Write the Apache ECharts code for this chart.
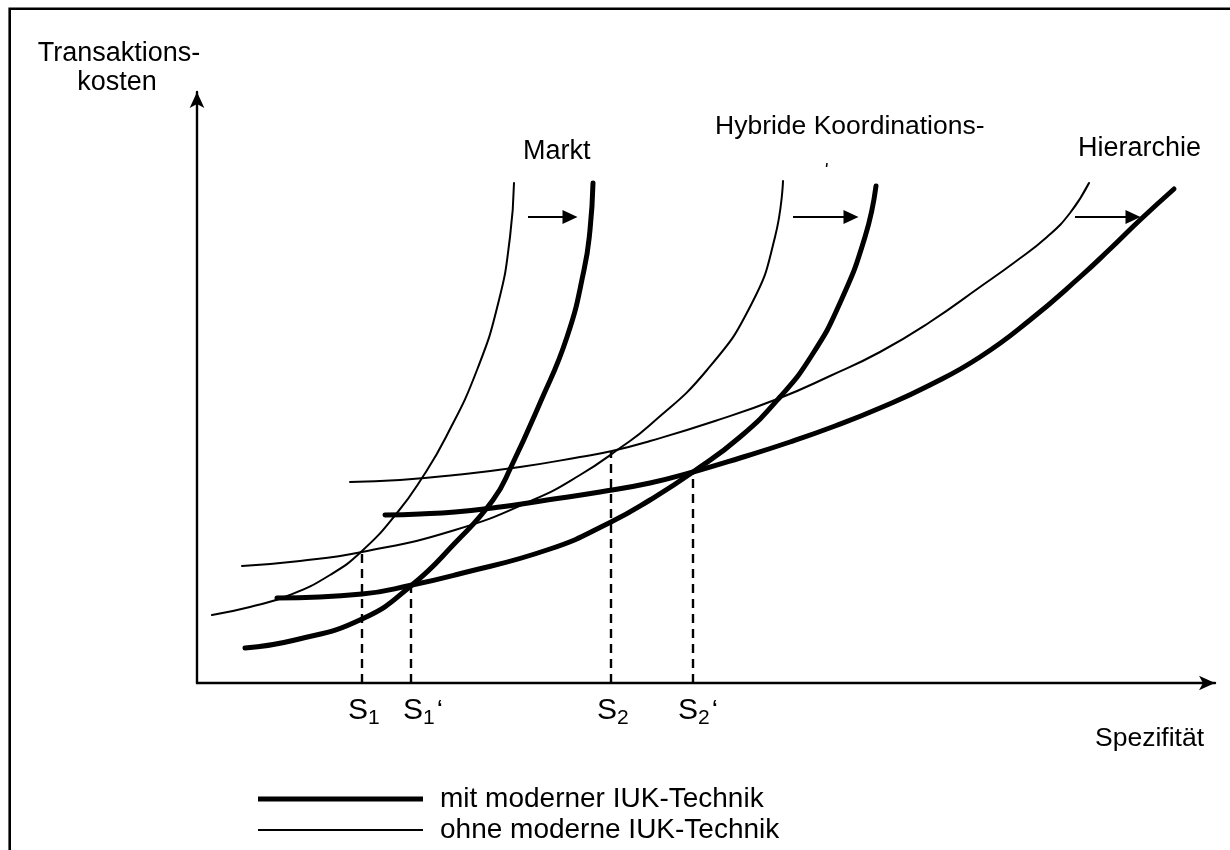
<!DOCTYPE html>
<html>
<head>
<meta charset="utf-8">
<script src="https://cdn.jsdelivr.net/npm/echarts@6/dist/echarts.min.js"></script>
<style>
html,body{margin:0;padding:0;background:#fff;}
#c{width:1230px;height:850px;}
</style>
</head>
<body>
<div id="c"></div>
<script>
// ---- data: x = Spezifität, y = Transaktionskosten (abstract units) ----
const marktOhne = [[15,68],[53,76],[93,88],[133,108],[165,132],[200,170],[225,205],[249,246],[280,313],[302,383],[313,446],[317,500]];
const marktMit = [[48,35],[98,43],[165,64],[215,98],[258,140],[296,183],[314,216],[343,280],[370,346],[387,413],[393,453],[396,500]];
const hybridOhne = [[45,117],[103,122],[165,131],[258,153],[336,183],[383,208],[423,235],[453,258],[510,313],[555,380],[578,446],[586,502]];
const hybridMit = [[80,85],[165,89],[215,98],[258,108],[353,134],[414,161],[453,183],[496,211],[543,246],[583,286],[615,328],[643,380],[668,446],[679,497]];
const hierOhne = [[153,201],[203,203],[258,208],[323,216],[383,226],[415,232],[453,242],[518,262],[583,285],[633,307],[683,331],[733,361],[783,396],[818,421],[850,446],[873,470],[892,500]];
const hierMit = [[188,168],[223,169],[258,171],[303,176],[350,183],[403,191],[453,200],[496,211],[543,225],[593,241],[638,257],[683,275],[733,298],[783,326],[833,363],[883,406],[913,434],[943,463],[977,494]];
// equilibrium points S1, S1', S2, S2' : [x, height of dashed guide]
const sPoints = [[165,132],[214,98],[414,232],[496,211]];
const sLabels = [['S','1',''],['S','1','‘'],['S','2',''],['S','2','‘']];
// shift arrows [x0, x1, y]
const shiftArrows = [[331,373,466],[596,654,466],[878,936,466]];
const curveNames = ['Markt','Hybride Koordinations-','Hierarchie'];
const legendMit = 'mit moderner IUK-Technik';
const legendOhne = 'ohne moderne IUK-Technik';
const xMax = 1018, yMax = 591;

const FONT = '"Liberation Sans", Arial, sans-serif';
const chart = echarts.init(document.getElementById('c'), null, {renderer:'canvas'});

function curve(name, data, width){
  return {
    type:'line', name:name, data:data, showSymbol:false, symbol:'none',
    smooth:0.5, silent:true, animation:false,
    color:'#000',
    lineStyle:{color:'#000', width:width, cap:'round', join:'round'},
    z:3
  };
}
const series = [
  curve(legendOhne, marktOhne, 2),
  curve(legendMit, marktMit, 5),
  curve(legendOhne, hybridOhne, 2),
  curve(legendMit, hybridMit, 5),
  curve(legendOhne, hierOhne, 2),
  curve(legendMit, hierMit, 5)
];
sPoints.forEach(function(p, i){
  series.push({
    type:'line', name:'s'+i, data:[[p[0],0],[p[0],p[1]]], showSymbol:false, symbol:'none',
    silent:true, animation:false,
    lineStyle:{color:'#000', width:2.4, type:[9,6]}, z:2
  });
});
series.push({
  type:'line', name:'arrows', data:[], silent:true, animation:false,
  markLine:{
    silent:true, animation:false, symbol:['none','triangle'], symbolSize:[14,15],
    label:{show:false},
    lineStyle:{color:'#000', width:2, type:'solid'},
    emphasis:{disabled:true},
    data: shiftArrows.map(function(a){ return [{coord:[a[0],a[2]]},{coord:[a[1],a[2]]}]; })
  }
});

function txt(t, x, y, size, align){
  return {type:'text', x:x, y:y, silent:true, z:10,
    style:{text:t, font: size+'px '+FONT, fill:'#000', textAlign:align||'left', textVerticalAlign:'middle'}};
}
const graphics = [
  {type:'rect', silent:true, z:0, shape:{x:9.7, y:8.7, width:1400, height:1000}, style:{fill:'none', stroke:'#000', lineWidth:2.6}},
  txt('Transaktions-', 119, 54, 27, 'center'),
  txt('kosten', 117, 83, 27, 'center'),
  txt(curveNames[0], 523, 152, 27),
  txt(curveNames[1], 715, 127, 26.5),
  txt(curveNames[2], 1078, 149, 27),
  txt('Spezifität', 1095, 739, 26.5),
  {type:'line', silent:true, shape:{x1:827, y1:163, x2:826.5, y2:167}, style:{stroke:'#000', lineWidth:1.5}}
];
const sLeft = [348, 403, 597, 678];
sLabels.forEach(function(l, i){
  graphics.push({type:'text', x:sLeft[i], y:711, silent:true, z:10,
    style:{text:'{s|'+l[0]+'}{b|'+l[1]+'}'+(l[2]?'{q|'+l[2]+'}':''), textVerticalAlign:'middle', textAlign:'left',
      rich:{
        s:{font:'30px '+FONT, fill:'#000', lineHeight:34},
        b:{font:'21px '+FONT, fill:'#000', padding:[14,0,0,0], lineHeight:26},
        q:{font:'28px '+FONT, fill:'#000', padding:[0,0,0,2], lineHeight:34}
      }}});
});

chart.setOption({
  backgroundColor:'#fff',
  animation:false,
  grid:{left:197, top:92, width:xMax, height:yMax, containLabel:false},
  xAxis:{type:'value', min:0, max:xMax, splitLine:{show:false}, axisTick:{show:false}, axisLabel:{show:false},
    axisLine:{show:true, onZero:false, symbol:['none','arrow'], symbolSize:[11,16], lineStyle:{color:'#000', width:2.4}}},
  yAxis:{type:'value', min:0, max:yMax, splitLine:{show:false}, axisTick:{show:false}, axisLabel:{show:false},
    axisLine:{show:true, onZero:false, symbol:['none','arrow'], symbolSize:[11,16], lineStyle:{color:'#000', width:2.4}}},
  legend:[
    {data:[{name:legendMit, icon:'rect'}], left:258, top:784, padding:0, itemWidth:165, itemHeight:5, selectedMode:false,
      textStyle:{fontFamily:FONT, fontSize:28, color:'#000', padding:[0,0,0,12], lineHeight:30}},
    {data:[{name:legendOhne, icon:'rect'}], left:258, top:815, padding:0, itemWidth:165, itemHeight:2, selectedMode:false,
      textStyle:{fontFamily:FONT, fontSize:28, color:'#000', padding:[0,0,0,12], lineHeight:30}}
  ],
  graphic:graphics,
  series:series
});
</script>
</body>
</html>
